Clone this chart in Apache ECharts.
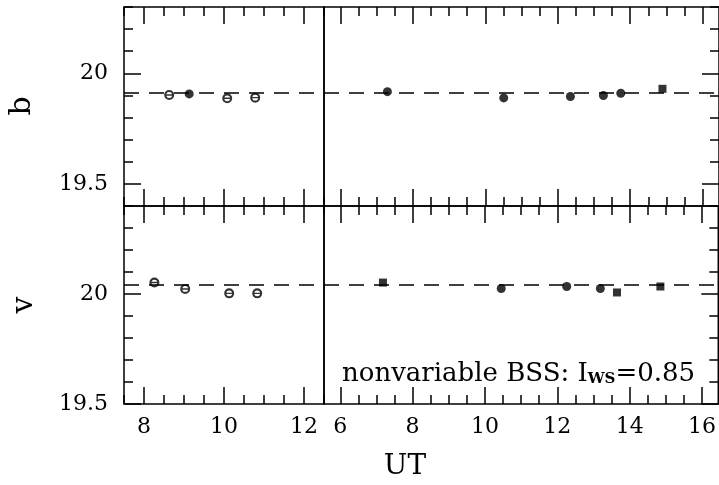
<!DOCTYPE html>
<html>
<head>
<meta charset="utf-8">
<script src="https://cdn.jsdelivr.net/npm/echarts@6/dist/echarts.min.js"></script>
<style>
  html, body { margin: 0; padding: 0; background: #fff; }
  #chart { width: 719px; height: 485px; }
</style>
</head>
<body>
<div id="chart"></div>
<script>
// b band, first night (left) and second night (right)
const bLeftUT = [8.63, 9.13, 10.08, 10.78];
const bLeftMag = [19.902, 19.907, 19.887, 19.89];
const bLeftSym = ['ring', 'circle', 'ring', 'ring'];
const bRightUT = [7.30, 10.51, 12.35, 13.26, 13.74, 14.89];
const bRightMag = [19.917, 19.889, 19.895, 19.90, 19.91, 19.93];
const bRightSym = ['circle', 'circle', 'circle', 'circle', 'circle', 'rect'];

// v band
const vLeftUT = [8.26, 9.03, 10.13, 10.83];
const vLeftMag = [20.052, 20.023, 20.003, 20.003];
const vLeftSym = ['ring', 'ring', 'ring', 'ring'];
const vRightUT = [7.18, 10.45, 12.26, 13.19, 13.65, 14.85];
const vRightMag = [20.052, 20.025, 20.034, 20.025, 20.007, 20.034];
const vRightSym = ['rect', 'circle', 'circle', 'circle', 'rect', 'rect'];

const bMean = 19.905;
const vMean = 20.035;

const leftRange = [7.5, 12.5];
const rightRange = [5.55, 16.45];
const bRange = [19.4, 20.3];
const vRange = [19.5, 20.4];

const leftMajorX = [8, 10, 12];
const rightMajorX = [6, 8, 10, 12, 14, 16];
const bMajorY = [19.5, 20];
const vMajorY = [19.5, 20];

const steps = (a, b, s) => {
    const out = [];
    for (let v = a; v <= b + 1e-9; v += s) out.push(Math.round(v * 100) / 100);
    return out;
};
const leftMinorX = steps(7.5, 12.5, 0.5);
const rightMinorX = steps(6, 16, 0.5);
const bMinorY = steps(19.4, 20.3, 0.1);
const vMinorY = steps(19.5, 20.4, 0.1);

const FONT = "'DejaVu Serif', serif";
const RING = 'path://M0,10 A10,10 0 1,1 20,10 A10,10 0 1,1 0,10 Z M4.2,10 A5.8,5.8 0 1,0 15.8,10 A5.8,5.8 0 1,0 4.2,10 Z M2,8.6 L18,8.6 L18,11.4 L2,11.4 Z';

const panels = [
    { box: { left: 124, top: 7, width: 200, height: 199 }, x: leftRange, y: bRange, xMinor: leftMinorX, xMajor: leftMajorX, yMinor: bMinorY, yMajor: bMajorY, side: 'left', xLab: false, ut: bLeftUT, mag: bLeftMag, sym: bLeftSym, mean: bMean },
    { box: { left: 324, top: 7, width: 396, height: 199 }, x: rightRange, y: bRange, xMinor: rightMinorX, xMajor: rightMajorX, yMinor: bMinorY, yMajor: bMajorY, side: 'right', xLab: false, ut: bRightUT, mag: bRightMag, sym: bRightSym, mean: bMean },
    { box: { left: 124, top: 206, width: 200, height: 198 }, x: leftRange, y: vRange, xMinor: leftMinorX, xMajor: leftMajorX, yMinor: vMinorY, yMajor: vMajorY, side: 'left', xLab: true, ut: vLeftUT, mag: vLeftMag, sym: vLeftSym, mean: vMean },
    { box: { left: 324, top: 206, width: 396, height: 198 }, x: rightRange, y: vRange, xMinor: rightMinorX, xMajor: rightMajorX, yMinor: vMinorY, yMajor: vMajorY, side: 'right', xLab: true, ut: vRightUT, mag: vRightMag, sym: vRightSym, mean: vMean }
];

const tickStyle = { color: '#000', width: 1.5 };

function axis(gridIndex, position, range, ticks, len, labels, margin) {
    return {
        type: 'value', gridIndex, position, min: range[0], max: range[1],
        axisLine: { show: false, onZero: false },
        splitLine: { show: false },
        axisTick: { show: true, inside: true, length: len, customValues: ticks, lineStyle: tickStyle },
        axisLabel: labels
            ? { show: true, customValues: labels, margin, color: '#000', fontFamily: FONT, fontSize: 22 }
            : { show: false }
    };
}

const grid = [], xAxis = [], yAxis = [], series = [];
panels.forEach((p, i) => {
    grid.push({ ...p.box, show: true, borderColor: '#000', borderWidth: 1.5, backgroundColor: 'transparent' });
    const xi = xAxis.length;
    xAxis.push(axis(i, 'bottom', p.x, p.xMinor, 9, null));
    xAxis.push(axis(i, 'bottom', p.x, p.xMajor, 17, p.xLab ? p.xMajor : null, 12));
    xAxis.push(axis(i, 'top', p.x, p.xMinor, 9, null));
    xAxis.push(axis(i, 'top', p.x, p.xMajor, 17, null));
    const yi = yAxis.length;
    yAxis.push(axis(i, p.side, p.y, p.yMinor, 9, null));
    yAxis.push(axis(i, p.side, p.y, p.yMajor, 17, p.side === 'left' ? p.yMajor : null, 16));

    series.push({
        type: 'scatter',
        xAxisIndex: xi, yAxisIndex: yi,
        data: p.ut.map((t, k) => ({
            value: [t, p.mag[k]],
            symbol: p.sym[k] === 'ring' ? RING : p.sym[k],
            symbolSize: p.sym[k] === 'ring' ? 10 : (p.sym[k] === 'rect' ? 8 : 9)
        })),
        itemStyle: { color: '#000' },
        markLine: {
            silent: true, symbol: ['none', 'none'], label: { show: false },
            lineStyle: { color: '#000', width: 1.5, type: [15, 10] },
            data: [{ yAxis: p.mean }]
        }
    });
});

const chart = echarts.init(document.getElementById('chart'), null, { renderer: 'canvas' });
chart.setOption({
    animation: false,
    backgroundColor: '#fff',
    grid, xAxis, yAxis, series,
    graphic: [
        { type: 'text', x: 22, y: 106, rotation: Math.PI / 2, style: { text: 'b', font: "30px 'DejaVu Serif'", fill: '#000', align: 'center', verticalAlign: 'middle' } },
        { type: 'text', x: 24, y: 305, rotation: Math.PI / 2, style: { text: 'v', font: "30px 'DejaVu Serif'", fill: '#000', align: 'center', verticalAlign: 'middle' } },
        { type: 'text', x: 405, y: 467, style: { text: 'UT', font: "28px 'DejaVu Serif'", fill: '#000', align: 'center', verticalAlign: 'middle' } },
        {
            type: 'text', x: 342, y: 361,
            style: {
                text: '{a|nonvariable BSS: I}{s|WS}{a|=0.85}',
                fill: '#000',
                rich: {
                    a: { fontFamily: FONT, fontSize: 26, lineHeight: 26, verticalAlign: 'top', padding: [0, 0, 10, 0], color: '#000' },
                    s: { fontFamily: FONT, fontSize: 15, fontWeight: 'bold', lineHeight: 15, verticalAlign: 'bottom', color: '#000' }
                }
            }
        }
    ]
});
</script>
</body>
</html>
